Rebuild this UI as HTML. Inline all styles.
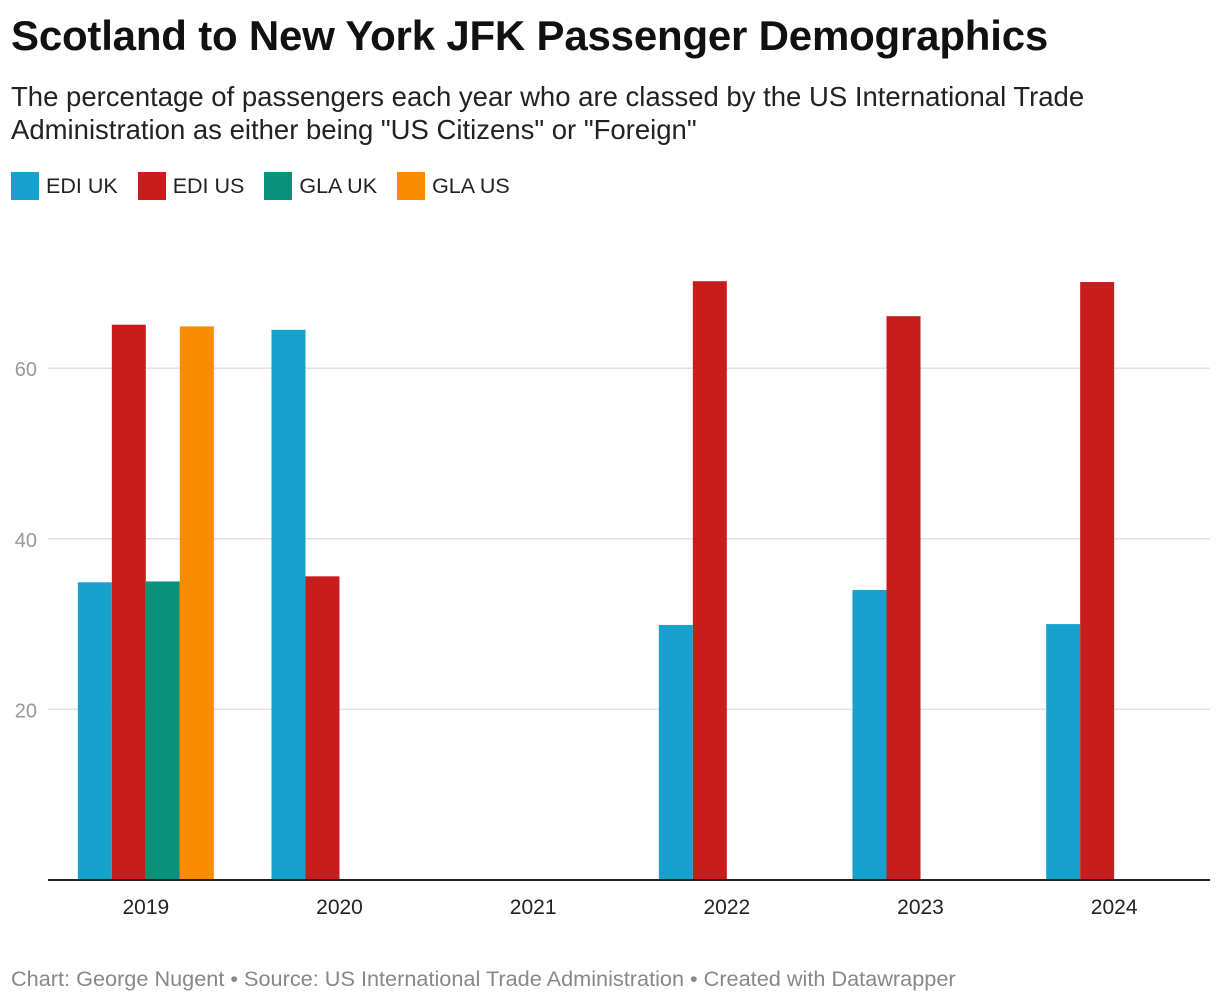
<!DOCTYPE html>
<html><head><meta charset="utf-8"><style>
body{margin:0;background:#fff;width:1220px;height:1002px;overflow:hidden;font-family:"Liberation Sans",Roboto,sans-serif;position:relative}
.title{position:absolute;left:11px;top:12px;font-size:42px;font-weight:bold;color:#111;letter-spacing:-0.2px}
.sub{position:absolute;left:11px;top:80px;font-size:27.5px;line-height:33px;color:#222;width:1120px}
.legend{position:absolute;left:11px;top:172px;font-size:21.5px;color:#222;display:flex}
.li{display:flex;align-items:center;margin-right:20px}
.sw{width:28px;height:28px;margin-right:7px}
.foot{position:absolute;left:11px;top:966px;font-size:21.7px;color:#888}
svg{position:absolute;left:0;top:0}
</style></head><body>
<div class="title">Scotland to New York JFK Passenger Demographics</div>
<div class="sub">The percentage of passengers each year who are classed by the US International Trade Administration as either being "US Citizens" or "Foreign"</div>
<div class="legend">
<div class="li"><div class="sw" style="background:#18a1cd"></div>EDI UK</div>
<div class="li"><div class="sw" style="background:#c71e1d"></div>EDI US</div>
<div class="li"><div class="sw" style="background:#09917a"></div>GLA UK</div>
<div class="li"><div class="sw" style="background:#fa8c00"></div>GLA US</div>
</div>
<svg id="chart" width="1220" height="1002"></svg>
<div class="foot">Chart: George Nugent • Source: US International Trade Administration • Created with Datawrapper</div>
<script>
const categories=["2019","2020","2021","2022","2023","2024"];
const seriesNames=["EDI UK","EDI US","GLA UK","GLA US"];
const ediUK=[34.9,64.5,null,29.9,34.0,30.0];
const ediUS=[65.1,35.6,null,70.2,66.1,70.1];
const glaUK=[35.0,null,null,null,null,null];
const glaUS=[64.9,null,null,null,null,null];
const yTicks=[20,40,60];
const colors=["#18a1cd","#c71e1d","#09917a","#fa8c00"];
const series=[ediUK,ediUS,glaUK,glaUS];
const svg=document.getElementById('chart');
const NS='http://www.w3.org/2000/svg';
const x0=48,x1=1210,y0=880,pxPerUnit=8.53;
const band=(x1-x0)/categories.length,barW=34;
const y=v=>y0-v*pxPerUnit;
const xc=i=>x0+band*(i+0.5)+1;
function mk(t,a){const e=document.createElementNS(NS,t);for(const k in a)e.setAttribute(k,a[k]);svg.appendChild(e);return e;}
yTicks.forEach(t=>{
 const g=mk('line',{x1:x0,x2:x1,y1:y(t),y2:y(t),stroke:'#e2e2e2','stroke-width':1.5});
 
 
 const l=mk('text',{x:37,y:y(t)+8,'text-anchor':'end','font-size':20,fill:'#999','font-family':'Liberation Sans, sans-serif'});
 l.textContent=t;
 
 
});
series.forEach((s,si)=>{
 s.forEach((v,i)=>{
  if(v==null)return;
  const bx=xc(i)-2*barW+si*barW;
  const r=mk('rect',{x:bx,y:y(v),width:barW,height:y0-y(v),fill:colors[si]});
  
  
 });
});
const ax=mk('line',{x1:x0,x2:x1,y1:y0,y2:y0,stroke:'#222','stroke-width':2});


categories.forEach((c,i)=>{
 const t=mk('text',{x:xc(i),y:914,'text-anchor':'middle','font-size':21,fill:'#222','font-family':'Liberation Sans, sans-serif'});
 t.textContent=c;
 
 
});
</script>
</body></html>
